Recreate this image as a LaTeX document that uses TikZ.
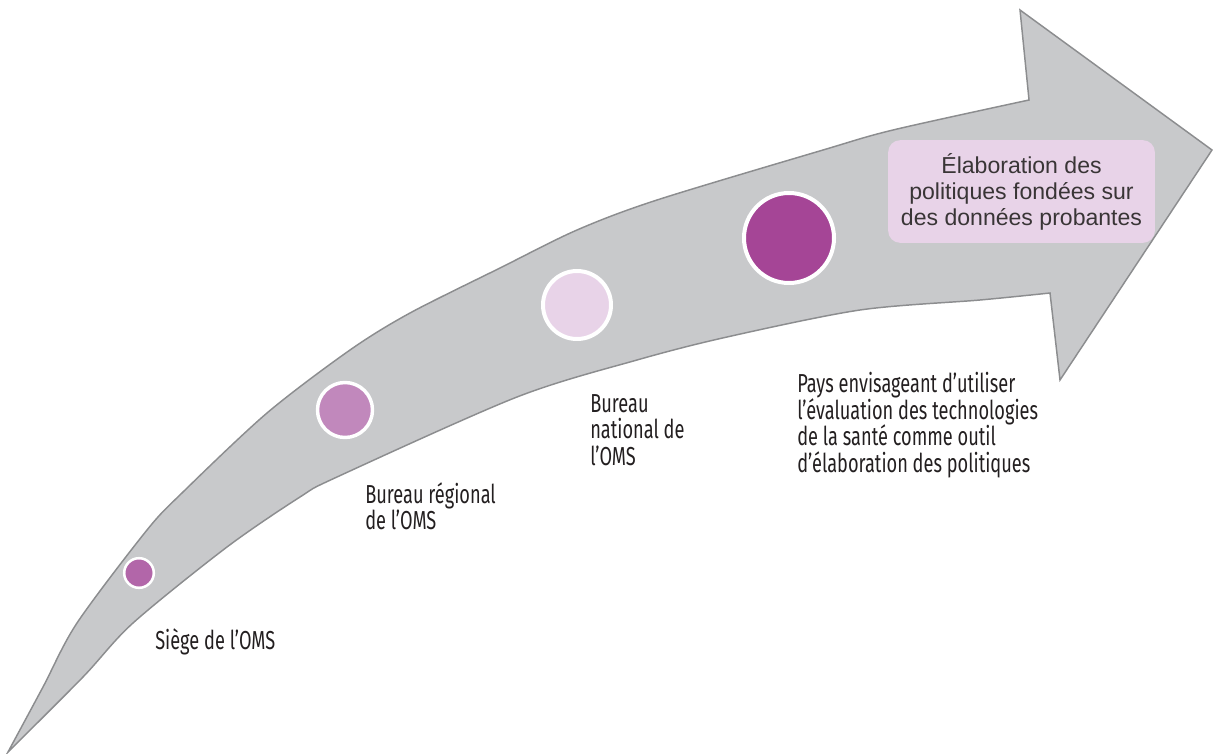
\documentclass[tikz,border=0pt]{standalone}
\usepackage{fontspec}
\newfontfamily\lblfont[FakeStretch=0.7]{Fira Sans}
\newfontfamily\boxfont{Liberation Sans}
\definecolor{arrowgray}{HTML}{C8C9CB}
\definecolor{arrowedge}{HTML}{8C8D8F}
\definecolor{cone}{HTML}{B266A9}
\definecolor{ctwo}{HTML}{C188BC}
\definecolor{cthree}{HTML}{E8D3E8}
\definecolor{cfour}{HTML}{A54596}
\definecolor{boxpink}{HTML}{E8D3E8}
\definecolor{txt}{HTML}{231F20}
\begin{document}
\begin{tikzpicture}[x=0.75pt,y=-0.75pt,
  dot/.style={circle, draw=white, inner sep=0pt},
  lbl/.style={font=\lblfont\fontsize{19.5}{20}\selectfont, text=txt, align=left, inner sep=0pt, anchor=north west},
  goalbox/.style={rounded corners=9pt, fill=boxpink, minimum width=200pt, minimum height=77pt, inner sep=0pt, align=center, font=\boxfont\fontsize{17.3}{19.5}\selectfont, text=txt!90}]
\useasboundingbox (0,0) rectangle (1213,753);
% big curved arrow
\filldraw[fill=arrowgray, draw=arrowedge, line width=1.1pt, line join=miter]
  (8,752) -- plot[smooth, tension=0.5] coordinates {(8,752) (43,687) (77,623) (147,530) (183,492) (267,413) (350,350) (410,313) (500,268) (577,230) (657,200) (823,150) (893,130) (1029,100)}
  -- (1020,10) -- (1212,150) -- (1060,380) -- (1050,293)
  -- plot[smooth, tension=0.5] coordinates {(1050,293) (980,300) (860,310) (727,337) (637,360) (517,397) (337,477) (300,497) (227,547) (133,623) (83,677) (8,752)}
  -- cycle;
% circles
\node[dot, fill=cone, minimum size=22.2pt, line width=1.9pt] (c1) at (139,573) {};
\node[dot, fill=ctwo, minimum size=41.25pt, line width=2.6pt] (c2) at (345,410) {};
\node[dot, fill=cthree, minimum size=51pt, line width=3pt] (c3) at (577,305) {};
\node[dot, fill=cfour, minimum size=67.5pt, line width=3pt] (c4) at (789,238) {};
% goal box
\node[goalbox] (goal) at (1021.5,191.5) {Élaboration des\\politiques fondées sur\\des données probantes};
% labels
\node[lbl] (l1) at (155,628) {Siège de l’OMS};
\node[lbl] (l2) at (365,482) {Bureau régional\\de l’OMS};
\node[lbl] (l3) at (590,394) {Bureau\\national de\\l’OMS};
\node[lbl] (l4) at (797,372) {Pays envisageant d’utiliser\\l’évaluation des technologies\\de la santé comme outil\\d’élaboration des politiques};
\end{tikzpicture}
\end{document}
